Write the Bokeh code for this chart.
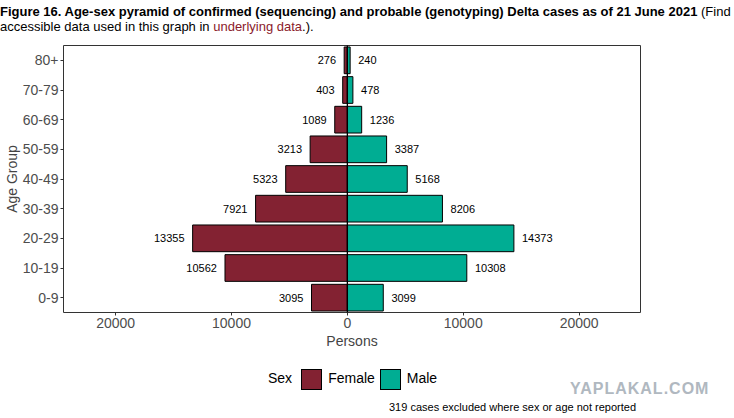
from bokeh.plotting import figure
from bokeh.models import FixedTicker, ColumnDataSource, Div
from bokeh.layouts import column
from bokeh.core.properties import value
from bokeh.embed import file_html
from bokeh.resources import INLINE

ages = ["0-9", "10-19", "20-29", "30-39", "40-49", "50-59", "60-69", "70-79", "80+"]
female = [3095, 10562, 13355, 7921, 5323, 3213, 1089, 403, 276]
male = [3099, 10308, 14373, 8206, 5168, 3387, 1236, 478, 240]
ticks = [-20000, -10000, 0, 10000, 20000]
FEM = "#832232"
MAL = "#00AD93"
FONT = "Liberation Sans"

W = 718
TOP = 38          # title div height
L, R = 60, 640
FT, FB = 45 - TOP, 312 - TOP   # frame top/bottom inside figure
H = 355 - TOP

title = Div(width=W, height=TOP, margin=0, text=(
    f'<div style="font-family:{FONT};font-size:13px;line-height:15px;color:#000;padding-top:4px;white-space:nowrap">'
    '<b>Figure 16. Age-sex pyramid of confirmed (sequencing) and probable (genotyping) Delta cases as of 21 June 2021</b>'
    ' (Find<br>accessible data used in this graph in <span style="color:#8B1A2B">underlying data</span>.).</div>'))

p = figure(width=W, height=H, y_range=ages, x_range=(-24500, 25300),
           output_backend="svg", toolbar_location=None, margin=0,
           min_border_left=L, min_border_top=FT, min_border_right=W - R, min_border_bottom=H - FB)
p.xgrid.visible = False
p.ygrid.visible = False
p.outline_line_color = "#333333"
p.outline_line_width = 1

src = ColumnDataSource(dict(age=ages, f=[-v for v in female], m=male, fl=[str(v) for v in female],
                            ml=[str(v) for v in male], fx=[-v - 700 for v in female], mx=[v + 700 for v in male]))
p.hbar(y="age", left="f", right=0, height=0.9, source=src, fill_color=FEM, line_color="black", line_width=1)
p.hbar(y="age", left=0, right="m", height=0.9, source=src, fill_color=MAL, line_color="black", line_width=1)
p.text(x="fx", y="age", text="fl", source=src, text_align="right", text_baseline="middle",
       text_font_size="11px", text_font=value(FONT))
p.text(x="mx", y="age", text="ml", source=src, text_align="left", text_baseline="middle",
       text_font_size="11px", text_font=value(FONT))
p.segment(x0=[0], x1=[0], y0=[-1], y1=[10], line_color="black", line_width=1.3)

p.xaxis.ticker = FixedTicker(ticks=ticks)
p.xaxis.major_label_overrides = {t: str(abs(t)) for t in ticks}
for ax in (p.xaxis, p.yaxis):
    ax.major_label_text_font = FONT
    ax.major_label_text_font_size = "14px"
    ax.major_label_text_color = "#4d4d4d"
    ax.axis_line_color = None
    ax.major_tick_line_color = "#333333"
    ax.minor_tick_line_color = None
    ax.major_tick_out = 3
    ax.major_tick_in = 0
    ax.major_label_standoff = 2
    ax.axis_label_text_font = FONT
    ax.axis_label_text_font_size = "14px"
    ax.axis_label_text_font_style = "normal"
p.xaxis.axis_label = "Persons"
p.yaxis.axis_label = "Age Group"
p.xaxis.axis_label_standoff = 2
p.yaxis.axis_label_standoff = 0

box = 'display:inline-block;width:21px;height:21px;border:1px solid #000;vertical-align:middle;margin:0 6px 0 5px;background:'
legend = Div(width=W, height=63, margin=0, text=(
    f'<div style="position:relative;width:{W}px;height:63px;font-family:{FONT};">'
    f'<div style="position:absolute;left:268px;top:12px;font-size:14px;line-height:22px">Sex'
    f'<span style="{box}{FEM};margin-left:9px"></span>Female'
    f'<span style="{box}{MAL}"></span>Male</div>'
    f'<div style="position:absolute;left:389px;top:45px;font-size:11px">319 cases excluded where sex or age not reported</div>'
    f'<div style="position:absolute;left:570px;top:23px;font-size:16px;font-weight:bold;letter-spacing:1px;color:#b0b8c0">YAPLAKAL.COM</div>'
    '</div>'))

open("out.html", "w").write(file_html(column(title, p, legend, spacing=0), INLINE))
